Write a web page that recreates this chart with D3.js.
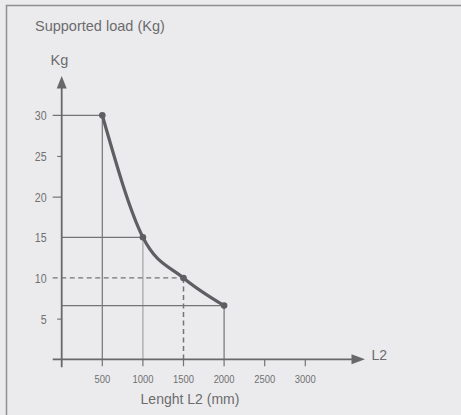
<!DOCTYPE html>
<html><head><meta charset="utf-8">
<script src="https://cdn.jsdelivr.net/npm/d3@7"></script>
<style>
html,body{margin:0;padding:0;background:#ebebed;}
svg{display:block;}
</style></head><body>
<script>
// Supported load against arm length
const lengths = [500, 1000, 1500, 2000];
const loads = [30, 15, 10, 6.6];
const xTicks = [500, 1000, 1500, 2000, 2500, 3000];
const yTicks = [5, 10, 15, 20, 25, 30];
const titleText = "Supported load (Kg)";
const yAxisName = "Kg";
const xAxisName = "L2";
const xLabelText = "Lenght L2 (mm)";

const W = 461, H = 415;
const ox = 61.7, oy = 359.3;
const narrow = 0.82;
const font = "'Liberation Sans', Arial, sans-serif";

const x = d3.scaleLinear().domain([0, 3000]).range([ox, ox + 243.6]);
const y = d3.scaleLinear().domain([0, 30]).range([oy, oy - 244]);

const svg = d3.select("body").append("svg")
  .attr("width", W).attr("height", H)
  .style("background", "#ebebed");

// frame
svg.append("path")
  .attr("d", `M6.5,${H}V5.5H${W}`)
  .attr("fill", "none").attr("stroke", "#8e8e90").attr("stroke-width", 1.5);

// guide lines from each point to the axes
const pts = lengths.map((l, i) => ({ l, v: loads[i] }));
const guideColor = "#747476";
pts.forEach((p, i) => {
  const dashed = p.v === 10;
  const hStart = (p.v % 10 === 0) ? x(0) - 9 : x(0);
  svg.append("line")
    .attr("x1", hStart).attr("x2", x(p.l))
    .attr("y1", y(p.v)).attr("y2", y(p.v))
    .attr("stroke", guideColor).attr("stroke-width", 1.2)
    .attr("stroke-dasharray", dashed ? "5,3.5" : null);
  svg.append("line")
    .attr("x1", x(p.l)).attr("x2", x(p.l))
    .attr("y1", y(p.v)).attr("y2", y(0))
    .attr("stroke", p.l === 1000 ? "#a3a3a5" : guideColor).attr("stroke-width", dashed ? 1.5 : 1.2)
    .attr("stroke-dasharray", dashed ? "5,3.5" : null);
});

// y axis
const yAxisG = svg.append("g").attr("transform", `translate(${ox},0)`)
  .call(d3.axisLeft(y).tickValues(yTicks).tickSize(9).tickPadding(6).tickFormat(d3.format("d")));
yAxisG.select(".domain").remove();
yAxisG.selectAll(".tick line")
  .attr("stroke", guideColor).attr("stroke-width", 1.2)
  .attr("x2", d => d % 10 === 0 ? -9 : -4.5)
  .attr("opacity", d => lengths.some((l, i) => loads[i] === d) ? 0 : 1);
yAxisG.selectAll(".tick text")
  .attr("x", -15 / narrow).attr("dy", "0.36em")
  .attr("transform", `scale(${narrow},1)`)
  .style("font-family", font).style("font-size", "13px").attr("fill", "#707072");

// x axis
const xAxisG = svg.append("g").attr("transform", `translate(0,${oy})`)
  .call(d3.axisBottom(x).tickValues(xTicks).tickSize(7).tickPadding(9).tickFormat(d3.format("d")));
xAxisG.select(".domain").remove();
xAxisG.selectAll(".tick line").attr("stroke", guideColor).attr("stroke-width", 1.2);
xAxisG.selectAll(".tick text")
  .attr("transform", `scale(${narrow},1)`)
  .attr("x", d => 0)
  .style("font-family", font).style("font-size", "11.5px").attr("fill", "#707072");
xAxisG.selectAll(".tick").attr("transform", d => `translate(${x(d)},0)`);

// axis lines with arrowheads
const axisColor = "#68686a";
svg.append("line").attr("x1", ox).attr("x2", ox).attr("y1", 86).attr("y2", oy + 8)
  .attr("stroke", axisColor).attr("stroke-width", 1.8);
svg.append("path").attr("d", `M${ox},76L${ox - 5},88.5L${ox + 5},88.5Z`).attr("fill", axisColor);
svg.append("line").attr("x1", ox - 9).attr("x2", 354).attr("y1", oy).attr("y2", oy)
  .attr("stroke", axisColor).attr("stroke-width", 1.8);
svg.append("path").attr("d", `M365,${oy}L351.5,${oy - 5}L351.5,${oy + 5}Z`).attr("fill", axisColor);

// load curve
const curveColor = "#5f5f63";
svg.append("path").datum(pts)
  .attr("d", d3.line().x(d => x(d.l)).y(d => y(d.v)).curve(d3.curveMonotoneX))
  .attr("fill", "none").attr("stroke", curveColor).attr("stroke-width", 3.2)
  .attr("stroke-linecap", "round");
svg.selectAll("circle.pt").data(pts).enter().append("circle")
  .attr("class", "pt").attr("cx", d => x(d.l)).attr("cy", d => y(d.v)).attr("r", 3.3)
  .attr("fill", curveColor);

// labels
const txt = (t, px, py, size, anchor) => svg.append("text")
  .attr("x", px).attr("y", py).attr("text-anchor", anchor || "start")
  .style("font-family", font).style("font-size", size + "px").attr("fill", "#6c6c6e").text(t);
txt(titleText, 35, 31, 14.5);
txt(yAxisName, 50.5, 65, 14.5);
txt(xAxisName, 371.5, 359.5, 14);
txt(xLabelText, 190, 404.3, 14, "middle");
</script>
</body></html>
